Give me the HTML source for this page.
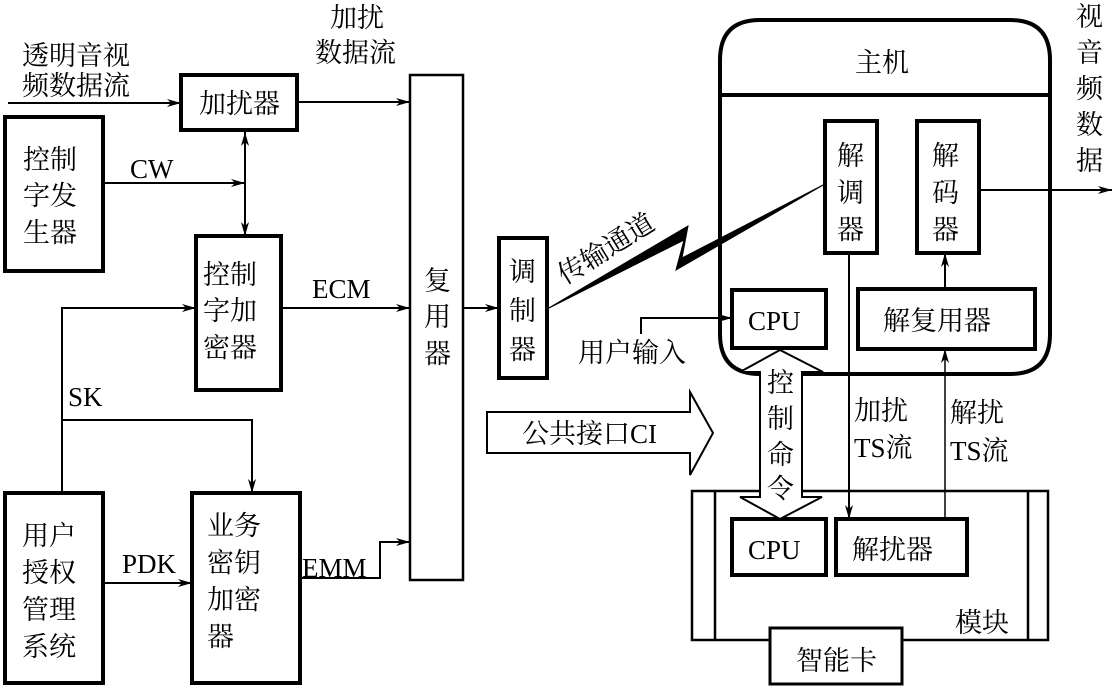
<!DOCTYPE html>
<html><head><meta charset="utf-8"><style>
html,body{margin:0;padding:0;background:#fff}
svg{display:block}
text{font-family:"Liberation Serif","Noto Serif CJK SC","Noto Sans CJK SC",serif;font-size:27px;fill:#000}
</style></head><body>
<svg width="1116" height="690" viewBox="0 0 1116 690" xmlns="http://www.w3.org/2000/svg">
<defs>
<marker id="a" viewBox="0 0 14 8" refX="14" refY="4" markerWidth="14" markerHeight="8" orient="auto" markerUnits="userSpaceOnUse">
<path d="M0,0 L14,4 L0,8 L4,4 Z" fill="#000"/></marker>
<marker id="as" viewBox="0 0 14 8" refX="0" refY="4" markerWidth="14" markerHeight="8" orient="auto" markerUnits="userSpaceOnUse">
<path d="M14,0 L0,4 L14,8 L10,4 Z" fill="#000"/></marker>
</defs>
<g fill="none" stroke="#000" stroke-width="4">
<rect x="181" y="75" width="116" height="55"/>
<rect x="5" y="117" width="98" height="154"/>
<rect x="196" y="236" width="85" height="154"/>
<rect x="499" y="238" width="48" height="140"/>
<rect x="5" y="493" width="98" height="190"/>
<rect x="192" y="493" width="108" height="190"/>
<path d="M760,374 Q720,374 720,334 L720,60 Q720,20 760,20 L1010,20 Q1050,20 1050,60 L1050,334 Q1050,374 1010,374 Z"/>
<line x1="720" y1="95" x2="1050" y2="95"/>
<rect x="825" y="121" width="52" height="132"/>
<rect x="917" y="121" width="62" height="132"/>
<rect x="732" y="290" width="94" height="58"/>
<rect x="858" y="289" width="177" height="60"/>
<rect x="732" y="519" width="94" height="56"/>
<rect x="836" y="519" width="131" height="56"/>
</g>
<g fill="none" stroke="#000" stroke-width="2.5">
<rect x="410" y="75" width="53" height="505"/>
<rect x="692" y="491" width="356" height="149"/>
<line x1="715" y1="491" x2="715" y2="640"/>
<line x1="1028" y1="491" x2="1028" y2="640"/>
</g>
<rect x="770" y="628" width="132" height="56" fill="#fff" stroke="#000" stroke-width="3"/>
<g fill="none" stroke="#000" stroke-width="2">
<line x1="8" y1="103" x2="181" y2="103" marker-end="url(#a)"/>
<line x1="297" y1="102" x2="410" y2="102" marker-end="url(#a)"/>
<line x1="103" y1="183" x2="245" y2="183" marker-end="url(#a)"/>
<line x1="245" y1="132" x2="245" y2="236" marker-start="url(#as)" marker-end="url(#a)"/>
<line x1="281" y1="308" x2="410" y2="308" marker-end="url(#a)"/>
<polyline points="62,493 62,308 196,308" marker-end="url(#a)"/>
<polyline points="62,420 252,420 252,493" marker-end="url(#a)"/>
<line x1="103" y1="583" x2="192" y2="583" marker-end="url(#a)"/>
<polyline points="300,578 380,578 380,542 410,542" marker-end="url(#a)"/>
<line x1="463" y1="308" x2="499" y2="308" marker-end="url(#a)"/>
<polyline points="641,334 641,318 732,318" marker-end="url(#a)"/>
<line x1="849" y1="253" x2="849" y2="519" marker-end="url(#a)"/>
<line x1="945" y1="519" x2="945" y2="349" stroke-width="1.5" marker-end="url(#a)"/>
<line x1="945" y1="289" x2="945" y2="253" marker-end="url(#a)"/>
<line x1="979" y1="190" x2="1112" y2="190" marker-end="url(#a)"/>
</g>
<path d="M547,309 L688,226 L682,258 L825,184 L676,270 L684,240 Z" fill="#000" stroke="#000" stroke-width="1"/>
<path d="M487,412 L690,412 L690,392 L713,433 L690,475 L690,453 L487,453 Z" fill="#fff" stroke="#000" stroke-width="2"/>
<path d="M760,497 L740,497 L780,519 L822,497 L802,497 L802,372 L823,372 L780,350 L740,372 L760,372 Z" fill="#fff" stroke="#000" stroke-width="2"/>
<text x="22" y="65">透明音视</text>
<text x="22" y="95">频数据流</text>
<text x="330" y="27">加扰</text>
<text x="315" y="62">数据流</text>
<text x="199" y="113">加扰器</text>
<text x="23" y="169">控制</text><text x="23" y="205">字发</text><text x="23" y="242">生器</text>
<text x="130" y="178" font-size="25">CW</text>
<text x="203" y="284">控制</text><text x="203" y="320">字加</text><text x="203" y="357">密器</text>
<text x="312" y="298" font-size="25">ECM</text>
<text x="424" y="290">复</text><text x="424" y="326">用</text><text x="424" y="363">器</text>
<text x="509" y="281">调</text><text x="509" y="320">制</text><text x="509" y="359">器</text>
<text x="565" y="285" transform="rotate(-32 565 285)">传输通道</text>
<text x="68" y="406" font-size="25">SK</text>
<text x="22" y="545">用户</text><text x="22" y="582">授权</text><text x="22" y="619">管理</text><text x="22" y="656">系统</text>
<text x="122" y="573" font-size="25">PDK</text>
<text x="207" y="535">业务</text><text x="207" y="572">密钥</text><text x="207" y="609">加密</text><text x="207" y="646">器</text>
<text x="302" y="577" font-size="25">EMM</text>
<text x="855" y="72">主机</text>
<text x="837" y="165">解</text><text x="837" y="202">调</text><text x="837" y="239">器</text>
<text x="932" y="165">解</text><text x="932" y="202">码</text><text x="932" y="239">器</text>
<text x="1076" y="26">视</text><text x="1076" y="62">音</text><text x="1076" y="98">频</text><text x="1076" y="134">数</text><text x="1076" y="170">据</text>
<text x="748" y="330" font-size="25">CPU</text>
<text x="883" y="330">解复用器</text>
<text x="578" y="362">用户输入</text>
<text x="522" y="443">公共接口CI</text>
<text x="767" y="392">控</text><text x="767" y="428">制</text><text x="767" y="464">命</text><text x="767" y="498">令</text>
<text x="854" y="420">加扰</text><text x="854" y="457" font-size="25">TS流</text>
<text x="950" y="422">解扰</text><text x="950" y="460" font-size="25">TS流</text>
<text x="748" y="559" font-size="25">CPU</text>
<text x="852" y="559">解扰器</text>
<text x="955" y="632">模块</text>
<text x="796" y="670">智能卡</text>
</svg>
</body></html>
